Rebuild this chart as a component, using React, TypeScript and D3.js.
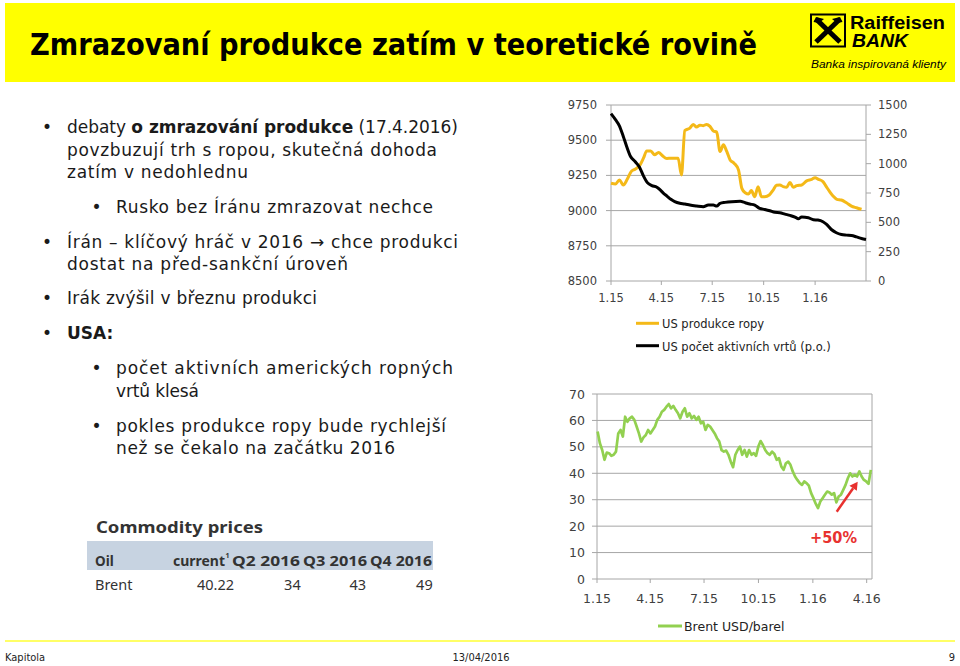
import React from "react";
import * as d3 from "d3";

// ---------- DATA ----------
const prodDates = ["2015-01-01","2015-01-09","2015-01-16","2015-01-23","2015-01-30","2015-02-06","2015-02-13","2015-02-22","2015-02-28","2015-03-06","2015-03-13","2015-03-20","2015-03-27","2015-04-03","2015-04-11","2015-04-18","2015-04-25","2015-05-01","2015-05-07","2015-05-13","2015-05-22","2015-05-28","2015-06-03","2015-06-09","2015-06-15","2015-06-21","2015-06-27","2015-07-03","2015-07-09","2015-07-15","2015-07-21","2015-07-27","2015-08-02","2015-08-09","2015-08-17","2015-08-23","2015-08-29","2015-09-04","2015-09-09","2015-09-15","2015-09-21","2015-09-27","2015-10-03","2015-10-11","2015-10-18","2015-10-24","2015-10-30","2015-11-05","2015-11-11","2015-11-17","2015-11-23","2015-11-29","2015-12-08","2015-12-17","2015-12-26","2016-01-01","2016-01-07","2016-01-15","2016-01-21","2016-01-27","2016-02-02","2016-02-09","2016-02-17","2016-02-26","2016-03-06","2016-03-15","2016-03-24"];
const prodValues = [9194,9189,9218,9182,9222,9277,9294,9325,9372,9424,9424,9396,9413,9389,9370,9372,9372,9372,9253,9569,9586,9612,9593,9607,9603,9612,9598,9565,9558,9420,9467,9420,9360,9337,9289,9158,9127,9118,9142,9099,9170,9099,9099,9111,9146,9180,9182,9170,9165,9199,9165,9177,9182,9211,9222,9234,9222,9206,9170,9135,9104,9080,9075,9056,9032,9020,9009];

const rigDates = ["2015-01-01","2015-01-09","2015-01-16","2015-01-23","2015-01-29","2015-02-05","2015-02-13","2015-02-21","2015-02-28","2015-03-07","2015-03-15","2015-03-24","2015-03-30","2015-04-05","2015-04-11","2015-04-18","2015-04-25","2015-05-04","2015-05-13","2015-05-22","2015-06-03","2015-06-15","2015-06-24","2015-07-03","2015-07-09","2015-07-15","2015-07-24","2015-08-05","2015-08-20","2015-08-29","2015-09-06","2015-09-15","2015-09-24","2015-10-03","2015-10-12","2015-10-21","2015-10-30","2015-11-08","2015-11-17","2015-11-26","2015-12-02","2015-12-08","2015-12-20","2015-12-29","2016-01-06","2016-01-15","2016-01-21","2016-01-30","2016-02-08","2016-02-17","2016-02-26","2016-03-06","2016-03-15","2016-03-24","2016-04-01"];
const rigValues = [1426,1375,1323,1232,1147,1061,1018,970,896,838,813,799,776,747,724,696,676,662,656,647,639,633,647,647,639,662,670,676,679,667,656,647,619,610,599,585,582,570,559,545,530,545,539,522,519,505,485,439,411,396,391,388,376,362,354];

const brentStart = "2015-01-02";
const brentEnd = "2016-04-08";
const brentValues = [55.8,51.4,48.8,45.1,47.8,47.6,46.6,47,48.2,55.1,56.4,53.9,61.4,59.5,60.8,61.4,60.2,57.7,55.1,52,53.6,54.5,56.4,55.1,56.4,57.7,60.2,61.4,63.3,64,65.2,66.2,64.6,65.5,64,62.7,60.8,63.3,64.6,61.4,62.7,60.8,61.7,60.2,61.4,58.9,59.5,56.4,58.3,57.7,56.4,55.1,53.3,52,48.8,48.2,48.6,47,44.4,42.3,47,48.8,50.1,47,48.8,46.3,48.8,47,47.6,46.6,50.1,52.2,50.7,48.8,47.6,47,48.2,47.3,45.1,45.7,42.6,41.3,43.8,44.4,43.2,40.7,38.8,37.5,36.3,35.6,36.9,36.3,35.3,32.5,30.6,28.5,26.8,29.3,30.6,31.9,33.1,32.7,31.9,32.5,29,31.2,31.9,33.7,35.6,38.1,40,38.8,39.4,38.8,40.7,38.8,37.5,36.9,36,41.3];

const prodTicks = [8500, 8750, 9000, 9250, 9500, 9750];
const rigTicks = [0, 250, 500, 750, 1000, 1250, 1500];
const topXTickDates = ["2015-01-01","2015-04-01","2015-07-01","2015-10-01","2016-01-01"];
const topXTickLabels = ["1.15","4.15","7.15","10.15","1.16"];
const brentTicks = [0, 10, 20, 30, 40, 50, 60, 70];
const brentXTickDates = ["2015-01-01","2015-04-01","2015-07-01","2015-10-01","2016-01-01","2016-04-01"];
const brentXTickLabels = ["1.15","4.15","7.15","10.15","1.16","4.16"];

const tableHeader = ["Oil", "current", "Q2 2016", "Q3 2016", "Q4 2016"];
const tableRowLabel = "Brent";
const tableRowValues = ["40.22", "34", "43", "49"];

// ---------- STYLE ----------
const FONT = "'DejaVu Sans', sans-serif";
const GRID = "#a6a6a6";
const LABEL = "#404040";
const GOLD = "#F4B918";
const GREEN = "#92D050";
const RED = "#E8312F";

const parse = d3.timeParse("%Y-%m-%d");

export default function App() {
  // top chart
  const xTop = d3.scaleTime().domain([parse("2015-01-01")!, parse("2016-04-01")!]).range([611, 866]);
  const yProd = d3.scaleLinear().domain([8500, 9750]).range([281, 105]);
  const yRig = d3.scaleLinear().domain([0, 1500]).range([281, 105]);
  const prodLine = d3.line<number>()
    .x((_, i) => xTop(parse(prodDates[i])!))
    .y((v) => yProd(v))
    .curve(d3.curveMonotoneX);
  const rigLine = d3.line<number>()
    .x((_, i) => xTop(parse(rigDates[i])!))
    .y((v) => yRig(v))
    .curve(d3.curveMonotoneX);

  // bottom chart
  const xB = d3.scaleTime().domain([parse("2015-01-01")!, parse("2016-04-10")!]).range([597, 872]);
  const yB = d3.scaleLinear().domain([0, 70]).range([579, 394]);
  const bs = parse(brentStart)!.getTime();
  const be = parse(brentEnd)!.getTime();
  const n = brentValues.length;
  const brentLine = d3.line<number>()
    .x((_, i) => xB(new Date(bs + ((be - bs) * i) / (n - 1))))
    .y((v) => yB(v));

  // arrow
  const ax1 = 836.7, ay1 = 511.7, ax2 = 857.7, ay2 = 481.7;
  const ang = Math.atan2(ay2 - ay1, ax2 - ax1);
  const ah = 8, aw = 4.5;
  const bx = ax2 - ah * Math.cos(ang), by = ay2 - ah * Math.sin(ang);
  const arrowHead = `M${ax2},${ay2} L${bx + aw * Math.sin(ang)},${by - aw * Math.cos(ang)} L${bx - aw * Math.sin(ang)},${by + aw * Math.cos(ang)} Z`;

  const bulletSize = 17;

  return (
    <svg width={960} height={666} style={{ position: "absolute", left: 0, top: 0, background: "#fff" }} fontFamily={FONT}>
      <rect x={0} y={0} width={960} height={666} fill="#fff" />
      {/* header */}
      <rect x={5} y={3} width={950} height={79} fill="#FFFF00" />
      <text x={30} y={55} fontSize={30} fontWeight="bold" fontFamily="'DejaVu Sans Condensed', 'Liberation Sans Narrow', sans-serif" textLength={727} lengthAdjust="spacingAndGlyphs" fill="#000">
        Zmrazovaní produkce zatím v teoretické rovině
      </text>
      {/* logo */}
      <g>
        <rect x={811} y={14.5} width={34} height={32} fill="#FFFF00" stroke="#000" strokeWidth={2} />
        <path d="M816,42 L840,19" stroke="#000" strokeWidth={5} />
        <path d="M840,42 L816,19" stroke="#000" strokeWidth={5} />
        <path d="M813.5,22 L816,17 L824,19 L819,23 Z" fill="#000" />
        <path d="M842.5,22 L840,17 L832,19 L837,23 Z" fill="#000" />
        <text x={850} y={28.5} fontSize={18} fontWeight="bold" fontFamily="'Liberation Sans', Arial, sans-serif" textLength={95} lengthAdjust="spacingAndGlyphs">Raiffeisen</text>
        <text x={852} y={46.7} fontSize={18} fontWeight="bold" fontStyle="italic" fontFamily="'Liberation Sans', Arial, sans-serif" textLength={56} lengthAdjust="spacingAndGlyphs">BANK</text>
        <text x={811} y={68.3} fontSize={11} fontStyle="italic" fontFamily="'Liberation Sans', Arial, sans-serif" textLength={135} lengthAdjust="spacingAndGlyphs">Banka inspirovaná klienty</text>
      </g>

      {/* bullets */}
      <g fontSize={bulletSize} fill="#1a1a1a">
        <text x={42} y={133}>•</text>
        <text x={67} y={133} textLength={391} lengthAdjust="spacing">debaty <tspan fontWeight="bold">o zmrazování produkce</tspan> (17.4.2016)</text>
        <text x={67} y={156} textLength={370} lengthAdjust="spacing">povzbuzují trh s ropou, skutečná dohoda</text>
        <text x={67} y={178} textLength={181} lengthAdjust="spacing">zatím v nedohlednu</text>
        <text x={91.5} y={213}>•</text>
        <text x={116} y={213} textLength={317} lengthAdjust="spacing">Rusko bez Íránu zmrazovat nechce</text>
        <text x={42} y={248}>•</text>
        <text x={67} y={248} textLength={391} lengthAdjust="spacing">Írán – klíčový hráč v 2016 → chce produkci</text>
        <text x={67} y={270} textLength={281} lengthAdjust="spacing">dostat na před-sankční úroveň</text>
        <text x={42} y={304}>•</text>
        <text x={67} y={304} textLength={250} lengthAdjust="spacing">Irák zvýšil v březnu produkci</text>
        <text x={42} y={339}>•</text>
        <text x={67} y={339} fontWeight="bold">USA:</text>
        <text x={91.5} y={374}>•</text>
        <text x={116} y={374} textLength={337} lengthAdjust="spacing">počet aktivních amerických ropných</text>
        <text x={116} y={397} textLength={83} lengthAdjust="spacing">vrtů klesá</text>
        <text x={91.5} y={432}>•</text>
        <text x={116} y={432} textLength={330} lengthAdjust="spacing">pokles produkce ropy bude rychlejší</text>
        <text x={116} y={454} textLength={279} lengthAdjust="spacing">než se čekalo na začátku 2016</text>
      </g>

      {/* commodity table */}
      <g fontFamily="'Noto Sans', 'Open Sans', sans-serif">
        <text x={96} y={533} fontSize={16.5} fontWeight="bold" fill="#333" textLength={167} lengthAdjust="spacingAndGlyphs">Commodity prices</text>
        <rect x={87} y={541} width={346} height={29} fill="#C7D3E1" />
        <text x={95} y={565.5} fontSize={13.5} fontWeight="bold" fill="#333">{tableHeader[0]}</text>
        <text x={225} y={565.5} fontSize={13.5} fontWeight="bold" fill="#333" textAnchor="end" textLength={52} lengthAdjust="spacingAndGlyphs">{tableHeader[1]}</text>
        <text x={225.5} y={558} fontSize={7} fontWeight="bold" fill="#333">1</text>
        <text x={300} y={565.5} fontSize={13.5} fontWeight="bold" fill="#333" textAnchor="end" textLength={68} lengthAdjust="spacingAndGlyphs">{tableHeader[2]}</text>
        <text x={367} y={565.5} fontSize={13.5} fontWeight="bold" fill="#333" textAnchor="end" textLength={64} lengthAdjust="spacingAndGlyphs">{tableHeader[3]}</text>
        <text x={432} y={565.5} fontSize={13.5} fontWeight="bold" fill="#333" textAnchor="end" textLength={62} lengthAdjust="spacingAndGlyphs">{tableHeader[4]}</text>
        <text x={95} y={590} fontSize={14.5} fill="#333">{tableRowLabel}</text>
        {tableRowValues.map((v, i) => (
          <text key={i} x={[234, 300.7, 366, 432.7][i]} y={590} fontSize={14.5} fill="#333" textAnchor="end">{v}</text>
        ))}
      </g>

      {/* top chart */}
      <g>
        {prodTicks.slice(1).map((t) => (
          <line key={t} x1={611} x2={866} y1={yProd(t)} y2={yProd(t)} stroke={GRID} strokeWidth={1} />
        ))}
        <line x1={611} x2={611} y1={105} y2={281} stroke={GRID} />
        <line x1={866} x2={866} y1={105} y2={281} stroke={GRID} />
        <line x1={611} x2={866} y1={281} y2={281} stroke={GRID} />
        {prodTicks.map((t) => (
          <g key={t}>
            <line x1={606} x2={611} y1={yProd(t)} y2={yProd(t)} stroke={GRID} />
            <text x={597} y={yProd(t) + 4} fontSize={11.5} fill={LABEL} textAnchor="end">{t}</text>
          </g>
        ))}
        {rigTicks.map((t) => (
          <g key={t}>
            <line x1={866} x2={871} y1={yRig(t)} y2={yRig(t)} stroke={GRID} />
            <text x={878} y={yRig(t) + 4} fontSize={11.5} fill={LABEL}>{t}</text>
          </g>
        ))}
        {topXTickDates.map((d, i) => (
          <g key={d}>
            <line x1={xTop(parse(d)!)} x2={xTop(parse(d)!)} y1={281} y2={285} stroke={GRID} />
            <text x={xTop(parse(d)!)} y={302} fontSize={11.5} fill={LABEL} textAnchor="middle">{topXTickLabels[i]}</text>
          </g>
        ))}
        <path d={prodLine(prodValues)!} fill="none" stroke={GOLD} strokeWidth={3} strokeLinejoin="round" />
        <path d={rigLine(rigValues)!} fill="none" stroke="#000" strokeWidth={3} strokeLinejoin="round" />
        {/* legend */}
        <line x1={636} x2={659} y1={323.3} y2={323.3} stroke={GOLD} strokeWidth={3} />
        <text x={662} y={328} fontSize={11.5} fill="#222">US produkce ropy</text>
        <line x1={636} x2={659} y1={345.7} y2={345.7} stroke="#000" strokeWidth={3} />
        <text x={662} y={350.5} fontSize={11.5} fill="#222">US počet aktivních vrtů (p.o.)</text>
      </g>

      {/* bottom chart */}
      <g>
        {brentTicks.slice(1).map((t) => (
          <line key={t} x1={597} x2={872} y1={yB(t)} y2={yB(t)} stroke={GRID} />
        ))}
        <line x1={597} x2={597} y1={394} y2={579} stroke={GRID} />
        <line x1={872} x2={872} y1={394} y2={579} stroke={GRID} />
        <line x1={597} x2={872} y1={579} y2={579} stroke={GRID} />
        {brentTicks.map((t) => (
          <g key={t}>
            <line x1={592} x2={597} y1={yB(t)} y2={yB(t)} stroke={GRID} />
            <text x={585} y={yB(t) + 4.5} fontSize={12.5} fill={LABEL} textAnchor="end">{t}</text>
          </g>
        ))}
        {brentXTickDates.map((d, i) => (
          <g key={d}>
            <line x1={xB(parse(d)!)} x2={xB(parse(d)!)} y1={579} y2={583} stroke={GRID} />
            <text x={xB(parse(d)!)} y={603} fontSize={12.5} fill={LABEL} textAnchor="middle">{brentXTickLabels[i]}</text>
          </g>
        ))}
        <path d={brentLine(brentValues)!} fill="none" stroke={GREEN} strokeWidth={2.7} strokeLinejoin="round" />
        <line x1={ax1} y1={ay1} x2={bx} y2={by} stroke={RED} strokeWidth={2.5} />
        <path d={arrowHead} fill={RED} />
        <text x={810} y={543} fontSize={16} fontWeight="bold" fill={RED} textLength={47} lengthAdjust="spacingAndGlyphs">+50%</text>
        <line x1={658} x2={682} y1={626} y2={626} stroke={GREEN} strokeWidth={3} />
        <text x={684} y={630.5} fontSize={12.5} fill="#222">Brent USD/barel</text>
      </g>

      {/* footer */}
      <line x1={5} x2={955} y1={641} y2={641} stroke="#FFFF66" strokeWidth={2} />
      <g fontSize={11} fill="#222" fontFamily="'DejaVu Sans Condensed', 'DejaVu Sans', sans-serif">
        <text x={5} y={661}>Kapitola</text>
        <text x={481} y={661} textAnchor="middle">13/04/2016</text>
        <text x={955} y={661} textAnchor="end">9</text>
      </g>
    </svg>
  );
}
